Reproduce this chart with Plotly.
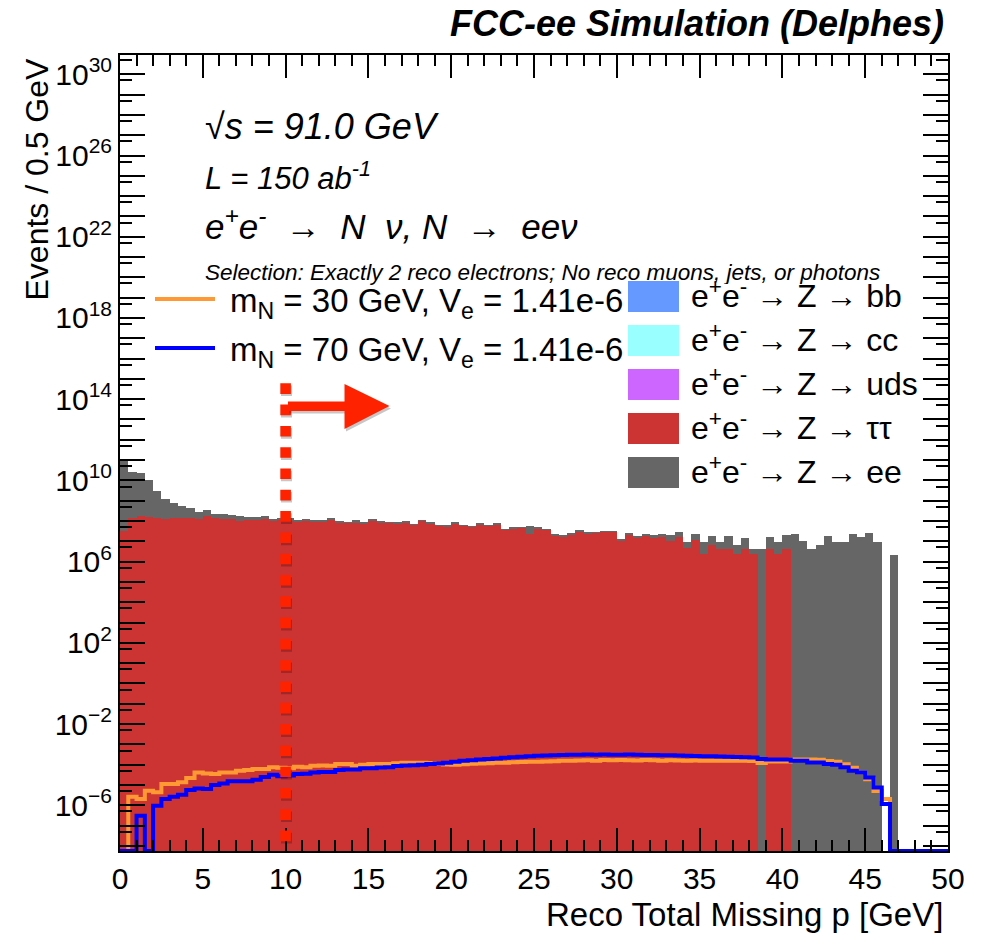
import plotly.graph_objects as go

# ---------------- data (log10 of events / 0.5 GeV) ----------------
n_bins = 100
bin_width = 0.5

# background: Z -> tau tau (red)
tautau_log10 = [7.51, 8.17, 8.24, 8.20, 8.15, 8.12, 8.17, 8.17, 8.17, 8.12,
                8.25, 8.15, 8.10, 8.10, 8.00, 8.07, 8.04, 8.10, 8.00, 8.04,
                8.00, 8.00, 8.04, 7.97, 7.97, 8.07, 7.92, 7.92, 7.95, 7.87,
                8.04, 7.95, 7.92, 7.88, 7.94, 7.83, 8.02, 7.89, 7.78, 7.74,
                7.89, 7.78, 7.71, 7.83, 7.76, 7.84, 7.58, 7.60, 7.66, 7.38,
                7.64, 7.58, 7.28, 7.22, 7.32, 7.47, 7.38, 7.43, 7.47, 7.47,
                7.05, 7.30, 7.14, 7.27, 7.14, 7.19, 7.00, 7.19, 6.66, 7.05,
                6.36, 6.84, 6.64, 6.64, 6.36, 6.64, 6.36, None, 6.64, 6.36,
                6.64, None, None, None, None, None, None, None, None, None,
                None, None, None, None, None, None, None, None, None, None]

# background: Z -> ee (grey, stacked on top of tau tau)
zee_log10 = [10.96, 10.40, 10.37, 10.00, 9.45, 9.02, 8.80, 8.62, 8.43, 8.18,
             8.19, 7.97, 7.94, 7.89, 7.87, 7.61, 7.69, 7.72, 7.50, 7.58,
             7.58, 7.24, 7.35, 7.21, 7.21, 6.93, 7.01, 6.59, 7.31, 7.18,
             7.13, 7.04, 6.59, 6.74, 6.61, 6.50, 6.39, 6.56, 6.45, 6.60,
             6.75, 6.45, 6.38, 6.69, 6.74, 6.51, 6.25, 7.06, 6.33, 7.49,
             6.31, 6.25, 6.69, 6.68, 6.68, 6.78, 6.74, 6.10, 6.14, 6.14,
             5.72, 6.84, 6.68, 6.73, 6.79, 6.84, 7.00, 7.15, 6.66, 7.11,
             6.84, 7.04, 6.68, 7.13, 6.67, 6.98, 6.32, 6.64, 7.05, 6.84,
             7.19, 7.38, 7.02, 6.64, 6.80, 7.28, 6.96, 6.96, 7.38, 7.19,
             7.43, 6.96, None, 6.35, None, None, None, None, None, None]

# backgrounds with no selected events
zbb_log10 = [None] * n_bins
zcc_log10 = [None] * n_bins
zuds_log10 = [None] * n_bins

# signal m_N = 30 GeV (orange)
sig30_log10 = [None, -5.58, -5.69, -5.28, -5.36, -4.95, -4.95, -4.87, -4.66, -4.38,
               -4.43, -4.46, -4.38, -4.38, -4.30, -4.26, -4.21, -4.21, -4.13, -4.15,
               -4.17, -4.10, -4.12, -4.05, -4.04, -4.05, -3.97, -3.96, -4.05, -4.00,
               -3.97, -3.97, -3.96, -3.93, -3.90, -3.90, -3.91, -3.92, -3.96, -3.99,
               -4.00, -3.98, -3.95, -3.94, -3.93, -3.91, -3.90, -3.88, -3.87, -3.86,
               -3.85, -3.84, -3.83, -3.81, -3.80, -3.79, -3.78, -3.80, -3.77, -3.78,
               -3.77, -3.78, -3.79, -3.77, -3.78, -3.80, -3.78, -3.79, -3.80, -3.79,
               -3.80, -3.81, -3.80, -3.80, -3.81, -3.80, -3.82, -3.92, -3.84, -3.84,
               -3.84, -3.75, -3.75, -3.75, -3.76, -3.82, -3.86, -3.98, -4.15, -4.38,
               -4.72, -5.30, -5.69, None, None, None, None, None, None, None]

# signal m_N = 70 GeV (blue)
sig70_log10 = [None, None, -6.51, None, -6.02, -5.69, -5.58, -5.48, -5.25, -5.17,
               -5.20, -5.00, -4.92, -4.82, -4.82, -4.82, -4.74, -4.61, -4.49, -4.57,
               -4.53, -4.46, -4.45, -4.38, -4.36, -4.36, -4.26, -4.24, -4.24, -4.17,
               -4.17, -4.14, -4.12, -4.07, -4.04, -4.03, -4.00, -3.97, -3.94, -3.90,
               -3.86, -3.81, -3.78, -3.74, -3.72, -3.69, -3.66, -3.63, -3.61, -3.59,
               -3.56, -3.55, -3.54, -3.52, -3.51, -3.51, -3.50, -3.51, -3.50, -3.51,
               -3.51, -3.50, -3.51, -3.52, -3.52, -3.53, -3.54, -3.55, -3.56, -3.57,
               -3.58, -3.59, -3.60, -3.61, -3.62, -3.63, -3.65, -3.72, -3.74, -3.75,
               -3.75, -3.80, -3.80, -3.89, -3.89, -3.97, -4.00, -4.13, -4.30, -4.38,
               -4.63, -5.12, -5.94, None, None, None, None, None, None, None]

x_tick_vals = [0, 5, 10, 15, 20, 25, 30, 35, 40, 45, 50]
y_label_exponents = [-6, -2, 2, 6, 10, 14, 18, 22, 26, 30]

bkg_labels = ["e<sup>+</sup>e<sup>-</sup> \u2192 Z \u2192 bb",
              "e<sup>+</sup>e<sup>-</sup> \u2192 Z \u2192 cc",
              "e<sup>+</sup>e<sup>-</sup> \u2192 Z \u2192 uds",
              "e<sup>+</sup>e<sup>-</sup> \u2192 Z \u2192 \u03c4\u03c4",
              "e<sup>+</sup>e<sup>-</sup> \u2192 Z \u2192 ee"]
bkg_colors = ["#6699ff", "#99ffff", "#cc66ff", "#cc3333", "#666666"]
sig_labels = ["m<sub>N</sub> = 30 GeV, V<sub>e</sub> = 1.41e-6",
              "m<sub>N</sub> = 70 GeV, V<sub>e</sub> = 1.41e-6"]
sig_colors = ["#ff9933", "#0000ff"]
cut_value = 10.0

# ---------------- helpers ----------------
Y_MIN_LOG, Y_MAX_LOG = -8.25, 30.95
FONT = "Liberation Sans, Arial, Helvetica, sans-serif"
NB = "\u00a0"

def to_counts(logs):
    return [0.0 if v is None else 10.0 ** v for v in logs]

centers = [(i + 0.5) * bin_width for i in range(n_bins)]
edges = [i * bin_width for i in range(n_bins + 1)]

def step_xy(logs):
    floor = 10.0 ** Y_MIN_LOG  # empty bins drawn on the lower frame, as ROOT does
    ys = [floor if v is None else 10.0 ** v for v in logs]
    return edges, ys + [ys[-1]]

fig = go.Figure()

for name, logs, col in [("Z->bb", zbb_log10, bkg_colors[0]),
                        ("Z->cc", zcc_log10, bkg_colors[1]),
                        ("Z->uds", zuds_log10, bkg_colors[2]),
                        ("Z->tautau", tautau_log10, bkg_colors[3]),
                        ("Z->ee", zee_log10, bkg_colors[4])]:
    fig.add_trace(go.Bar(x=centers, y=to_counts(logs), width=bin_width, name=name,
                         marker=dict(color=col, line=dict(width=0)), showlegend=False))

for logs, col in [(sig30_log10, sig_colors[0]), (sig70_log10, sig_colors[1])]:
    xs, ys = step_xy(logs)
    fig.add_trace(go.Scatter(x=xs, y=ys, mode="lines", line=dict(color=col, width=4, shape="hv"),
                             showlegend=False))

# ---------------- layout (page has an 8px body margin) ----------------
OFF = 8
W, H = 979, 934
PLOT_X0, PLOT_X1, PLOT_Y0, PLOT_Y1 = 120, 948, 55, 851   # page pixels
L, T = PLOT_X0 - OFF, PLOT_Y0 - OFF
R = W - L - (PLOT_X1 - PLOT_X0)
B = H - T - (PLOT_Y1 - PLOT_Y0)
PW, PH = PLOT_X1 - PLOT_X0, PLOT_Y1 - PLOT_Y0

def px(x):
    return (x - PLOT_X0) / PW

def py(y):
    return (PLOT_Y1 - y) / PH

ann = []
ann.append(dict(text="<b><i>FCC-ee Simulation (Delphes)</i></b>", x=px(946), y=py(23),
                xanchor="right", yanchor="middle", font=dict(size=36)))
ann.append(dict(text="<i>\u221as = 91.0 GeV</i>", x=px(203), y=py(127), xanchor="left", yanchor="middle",
                font=dict(size=36)))
ann.append(dict(text="<i>L = 150 ab<sup>-1</sup></i>", x=px(203), y=py(176), xanchor="left", yanchor="middle",
                font=dict(size=31)))
ann.append(dict(text="<i>e<sup>+</sup>e<sup>-</sup>" + NB + " \u2192 " + NB + "N" + NB + " \u03bd, N" + NB +
                     " \u2192 " + NB + "ee\u03bd</i>", x=px(203), y=py(224),
                xanchor="left", yanchor="middle", font=dict(size=35)))
ann.append(dict(text="<i>Selection: Exactly 2 reco electrons; No reco muons, jets, or photons</i>",
                x=px(203), y=py(272), xanchor="left", yanchor="middle", font=dict(size=22.5)))
for i, lab in enumerate(sig_labels):
    ann.append(dict(text=lab, x=px(228), y=py(303 + 49 * i), xanchor="left", yanchor="middle",
                    font=dict(size=33)))
# white background of the process legend (hides the tail of the signal legend)
ann.append(dict(text=" ", x=px(625), y=py(283.5), xanchor="left", yanchor="top", width=296, height=206,
                bgcolor="white", borderpad=0, borderwidth=0, font=dict(size=10)))
for i, (lab, col) in enumerate(zip(bkg_labels, bkg_colors)):
    ann.append(dict(text=" ", x=px(628), y=py(281 + 44 * i), xanchor="left", yanchor="top",
                    width=51, height=31, bgcolor=col, borderpad=0, borderwidth=0, font=dict(size=10)))
    ann.append(dict(text=lab, x=px(689), y=py(294 + 44 * i), xanchor="left", yanchor="middle",
                    font=dict(size=32)))
# axis titles (ROOT style: right / top aligned)
ann.append(dict(text="Reco Total Missing p [GeV]", x=px(945), y=py(915), xanchor="right", yanchor="middle",
                font=dict(size=33)))
ann.append(dict(text="Events / 0.5 GeV", x=px(36), y=py(56), xanchor="center", yanchor="top",
                textangle=-90, font=dict(size=32)))
for a in ann:
    a.update(xref="paper", yref="paper", showarrow=False)
    a["font"].update(family=FONT, color="black")

shapes = []
# signal legend lines
for i, col in enumerate(sig_colors):
    shapes.append(dict(type="line", xref="paper", yref="paper", x0=px(155), x1=px(215),
                       y0=py(299 + 49 * i), y1=py(299 + 49 * i), line=dict(color=col, width=4)))

# cut line (dotted, with a soft drop shadow) at 10 GeV
DOT = "10.6px,10.7px"
shapes.append(dict(type="line", xref="paper", yref="paper", x0=px(286.5), x1=px(286.5),
                   y0=py(385.5), y1=py(844), layer="above",
                   line=dict(color="rgba(0,0,0,0.22)", width=11, dash=DOT)))
shapes.append(dict(type="line", xref="x", yref="paper", x0=cut_value, x1=cut_value,
                   y0=py(383.3), y1=py(841.8), layer="above",
                   line=dict(color="#ff2200", width=10.6, dash=DOT)))

# arrow pointing to the kept region
def arrow_path(dx, dy):
    a0, a1, a2 = px(288 + dx), px(344.5 + dx), px(389.5 + dx)
    return (f"M {a0},{py(401.5 + dy)} L {a1},{py(401.5 + dy)} L {a1},{py(384 + dy)} "
            f"L {a2},{py(406 + dy)} L {a1},{py(429 + dy)} L {a1},{py(411 + dy)} "
            f"L {a0},{py(411 + dy)} Z")

shapes.append(dict(type="path", xref="paper", yref="paper", path=arrow_path(1.5, 2.5), layer="above",
                   fillcolor="rgba(0,0,0,0.22)", line=dict(width=0)))
shapes.append(dict(type="path", xref="paper", yref="paper", path=arrow_path(0, 0), layer="above",
                   fillcolor="#ff2200", line=dict(width=0)))

MINUS = "\u2212"
y_major = [10.0 ** k for k in range(-8, 31)]
y_text = [("10<sup>" + str(k).replace("-", MINUS) + "</sup>" if k in y_label_exponents else "")
          for k in range(-8, 31)]
y_minor = [5.0 * 10.0 ** k for k in range(-9, 31)]

fig.update_layout(
    width=W, height=H, margin=dict(l=L, r=R, t=T, b=B, pad=0),
    paper_bgcolor="white", plot_bgcolor="white",
    barmode="stack", bargap=0, bargroupgap=0,
    font=dict(family=FONT, color="black"),
    annotations=ann, shapes=shapes, showlegend=False,
    xaxis=dict(range=[0, 50], tickmode="array", tickvals=x_tick_vals, ticks="inside", ticklen=23,
               tickwidth=2, tickcolor="black", showline=True, linecolor="black", linewidth=2,
               mirror="allticks", showgrid=False, zeroline=False, tickfont=dict(size=30),
               minor=dict(dtick=1, ticks="inside", ticklen=11, tickwidth=2, tickcolor="black",
                          showgrid=False)),
    yaxis=dict(type="log", range=[Y_MIN_LOG, Y_MAX_LOG], tickmode="array", tickvals=y_major,
               ticktext=y_text, ticks="inside", ticklen=25, tickwidth=2, tickcolor="black",
               showline=True, linecolor="black", linewidth=2, mirror="allticks", showgrid=False,
               zeroline=False, tickfont=dict(size=30),
               minor=dict(tickmode="array", tickvals=y_minor, ticks="inside", ticklen=12, tickwidth=2,
                          tickcolor="black", showgrid=False)),
)

fig.write_html("out.html")
